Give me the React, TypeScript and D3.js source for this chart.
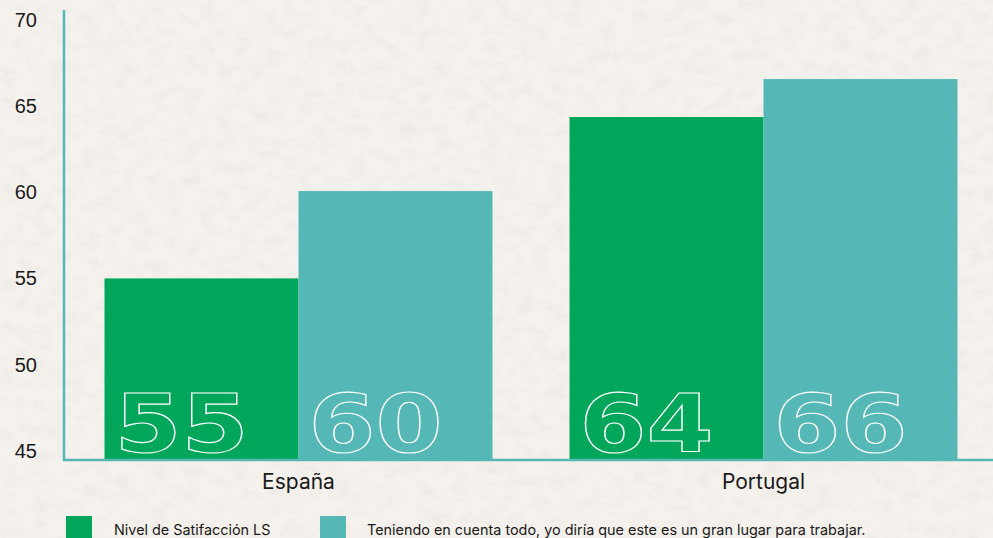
import React, { useRef, useEffect } from "react";
import * as d3 from "d3";

const categories = ["España", "Portugal"];
const seriesNames = [
  "Nivel de Satifacción LS",
  "Teniendo en cuenta todo, yo diría que este es un gran lugar para trabajar.",
];
const satisfaccion = [55, 64.35];
const granLugar = [60.06, 66.55];
const satisfaccionLabels = ["55", "64"];
const granLugarLabels = ["60", "66"];
const yTicks = [45, 50, 55, 60, 65, 70];
const colors = ["#00a65a", "#55b7b6"];

const App = () => {
  const svgRef = useRef(null);

  const drawChart = () => {
    const width = 993;
    const height = 538;
    const svg = d3.select(svgRef.current);
    svg.selectAll("*").remove();
    svg.attr("width", width).attr("height", height);

    /* paper texture */
    const defs = svg.append("defs");
    const filter = defs
      .append("filter")
      .attr("id", "paper")
      .attr("x", 0)
      .attr("y", 0)
      .attr("width", "100%")
      .attr("height", "100%");
    filter
      .append("feTurbulence")
      .attr("type", "fractalNoise")
      .attr("baseFrequency", "0.06 0.08")
      .attr("numOctaves", 4)
      .attr("seed", 3);
    filter
      .append("feColorMatrix")
      .attr("type", "matrix")
      .attr("values", "0 0 0 0 0.55  0 0 0 0 0.52  0 0 0 0 0.48  0 0 0 -1.2 0.72");

    svg.append("rect").attr("width", width).attr("height", height).attr("fill", "#f5f2ed");
    svg
      .append("rect")
      .attr("width", width)
      .attr("height", height)
      .attr("filter", "url(#paper)")
      .attr("opacity", 0.22);

    /* scales */
    const y = d3.scaleLinear().domain([45, 70]).range([451, 19.5]);
    const x0 = d3
      .scaleBand()
      .domain(categories)
      .range([66, 996])
      .paddingInner(0.1656)
      .paddingOuter(0.0828);
    const x1 = d3.scaleBand().domain(["0", "1"]).range([0, x0.bandwidth()]);

    const bottom = 460;
    const series = [satisfaccion, granLugar];
    const labels = [satisfaccionLabels, granLugarLabels];

    /* bars */
    series.forEach((vals, s) => {
      svg
        .append("g")
        .selectAll("rect")
        .data(vals)
        .enter()
        .append("rect")
        .attr("x", (d, i) => x0(categories[i]) + x1(String(s)))
        .attr("y", (d) => y(d))
        .attr("width", x1.bandwidth())
        .attr("height", (d) => bottom - y(d))
        .attr("fill", colors[s]);

      /* outlined big numbers */
      svg
        .append("g")
        .selectAll("text")
        .data(labels[s])
        .enter()
        .append("text")
        .attr("x", (d, i) => x0(categories[i]) + x1(String(s)) + 10)
        .attr("y", 452)
        .attr("textLength", 134)
        .attr("lengthAdjust", "spacingAndGlyphs")
        .style("font-family", "'DejaVu Sans', sans-serif")
        .style("font-weight", "bold")
        .style("font-size", "80px")
        .attr("fill", "none")
        .attr("stroke", "#ffffff")
        .attr("stroke-width", 1.2)
        .text((d) => d);
    });

    /* axes */
    svg
      .append("line")
      .attr("x1", 64)
      .attr("x2", 64)
      .attr("y1", 10)
      .attr("y2", bottom + 1)
      .attr("stroke", "#55b7b6")
      .attr("stroke-width", 2.5);
    svg
      .append("line")
      .attr("x1", 63)
      .attr("x2", 993)
      .attr("y1", bottom)
      .attr("y2", bottom)
      .attr("stroke", "#55b7b6")
      .attr("stroke-width", 2.5);

    /* y tick labels */
    svg
      .append("g")
      .selectAll("text")
      .data(yTicks)
      .enter()
      .append("text")
      .attr("x", 37)
      .attr("y", (d) => y(d))
      .attr("text-anchor", "end")
      .attr("dominant-baseline", "central")
      .style("font-family", "'Liberation Sans', Arial, sans-serif")
      .style("font-size", "20px")
      .attr("fill", "#1a1a1a")
      .text((d) => d);

    /* category labels */
    svg
      .append("g")
      .selectAll("text")
      .data(categories)
      .enter()
      .append("text")
      .attr("x", (d) => x0(d) + x0.bandwidth() / 2)
      .attr("y", 489)
      .attr("text-anchor", "middle")
      .style("font-family", "Inter, Roboto, sans-serif")
      .style("font-size", "21px")
      .attr("fill", "#1a1a1a")
      .text((d) => d);

    /* legend */
    const legendX = [66, 320];
    const legend = svg
      .append("g")
      .selectAll("g")
      .data(seriesNames)
      .enter()
      .append("g")
      .attr("transform", (d, i) => `translate(${legendX[i]}, 516)`);
    legend
      .append("rect")
      .attr("width", 26)
      .attr("height", 26)
      .attr("fill", (d, i) => colors[i]);
    legend
      .append("text")
      .attr("x", (d, i) => (i === 0 ? 48 : 47))
      .attr("y", 19)
      .style("font-family", "Inter, Roboto, sans-serif")
      .style("font-size", "14.4px")
      .attr("fill", "#1a1a1a")
      .text((d) => d);
  };

  useEffect(() => {
    drawChart();
  }, []);

  return (
    <div style={{ position: "absolute", left: 0, top: 0 }}>
      <svg ref={svgRef} style={{ display: "block" }} />
    </div>
  );
};

export default App;
